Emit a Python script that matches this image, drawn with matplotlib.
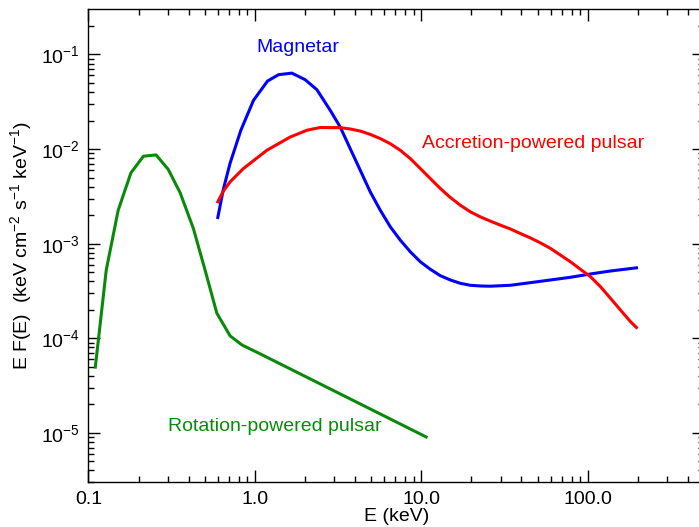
import numpy as np
import matplotlib
matplotlib.use("Agg")
import matplotlib.pyplot as plt
from matplotlib.ticker import FixedLocator, NullLocator, FuncFormatter

plt.rcParams['font.family'] = ['Liberation Sans', 'DejaVu Sans']
plt.rcParams['mathtext.fontset'] = 'custom'
plt.rcParams['mathtext.rm'] = 'Liberation Sans'
plt.rcParams['mathtext.it'] = 'Liberation Sans:italic'
plt.rcParams['axes.linewidth'] = 1.0

# 自转供能脉冲星 (Rotation-powered pulsar)
rot_E = [0.110, 0.128, 0.151, 0.180, 0.214, 0.255, 0.302, 0.356, 0.427,
         0.502, 0.591, 0.710, 0.836, 1.076, 10.7]
rot_F = [4.95e-5, 5.27e-4, 2.26e-3, 5.6e-3, 8.4e-3, 8.67e-3, 6.08e-3, 3.44e-3,
         1.45e-3, 5.27e-4, 1.84e-4, 1.06e-4, 8.5e-5, 6.84e-5, 9.05e-6]

# 磁星 (Magnetar)
mag_E = [0.599, 0.647, 0.710, 0.824, 0.981, 1.191, 1.387, 1.669, 2.006, 2.360,
         2.836, 3.258, 3.741, 4.298, 4.935, 5.668, 6.510, 7.477, 8.588, 9.863,
         11.33, 13.01, 14.94, 17.16, 19.71, 22.64, 26.00,
         34.30, 45.24, 59.68, 78.71, 103.8, 136.9, 196.3]
mag_F = [1.89e-3, 3.77e-3, 7.09e-3, 1.58e-2, 3.27e-2, 5.23e-2, 6.11e-2, 6.35e-2, 5.41e-2, 4.24e-2,
         2.57e-2, 1.71e-2, 1.01e-2, 5.97e-3, 3.53e-3, 2.26e-3, 1.51e-3, 1.09e-3, 8.21e-4, 6.44e-4,
         5.36e-4, 4.59e-4, 4.13e-4, 3.81e-4, 3.63e-4, 3.57e-4, 3.55e-4,
         3.63e-4, 3.87e-4, 4.13e-4, 4.41e-4, 4.78e-4, 5.14e-4, 5.55e-4]

# 吸积供能脉冲星 (Accretion-powered pulsar)
acc_E = [0.599, 0.647, 0.710, 0.854, 1.181, 1.630, 2.054, 2.470,
         2.836, 3.258, 3.741, 4.298, 4.935, 5.668, 6.510, 7.477, 8.588, 9.863,
         11.33, 13.01, 14.94, 17.16, 19.71, 22.64, 26.00, 29.86, 34.30, 39.39,
         45.24, 51.96, 59.68, 68.54, 78.71, 90.40, 103.8, 119.3, 136.9, 157.3,
         180.6, 196.3]
acc_F = [2.77e-3, 3.6e-3, 4.50e-3, 6.23e-3, 9.71e-3, 1.34e-2, 1.58e-2, 1.69e-2,
         1.685e-2, 1.685e-2, 1.63e-2, 1.55e-2, 1.43e-2, 1.29e-2, 1.14e-2, 9.71e-3, 7.94e-3, 6.23e-3,
         4.88e-3, 3.83e-3, 3.08e-3, 2.55e-3, 2.17e-3, 1.92e-3, 1.73e-3, 1.57e-3, 1.43e-3, 1.28e-3,
         1.15e-3, 1.02e-3, 8.92e-4, 7.58e-4, 6.44e-4, 5.36e-4, 4.48e-4, 3.51e-4, 2.65e-4, 1.99e-4,
         1.50e-4, 1.30e-4]

x_ticks = [0.1, 1.0, 10.0, 100.0]
x_tick_labels = ["0.1", "1.0", "10.0", "100.0"]
y_ticks = [1e-5, 1e-4, 1e-3, 1e-2, 1e-1]

# 对数轴的次刻度 2..9，和主刻度放在一起，之后逐个改短
x_minor = [m * 10.0 ** d for d in range(-1, 3) for m in range(2, 10) if m * 10.0 ** d < 500]
y_minor = [m * 10.0 ** d for d in range(-6, 0) for m in range(2, 10) if 3e-6 <= m * 10.0 ** d <= 0.3]
x_all = sorted(x_ticks + x_minor)
y_all = sorted(y_ticks + y_minor)


def is_major(v, majors):
    return any(np.isclose(v, m, rtol=1e-6) for m in majors)


def x_fmt(v, p):
    for t, lab in zip(x_ticks, x_tick_labels):
        if np.isclose(v, t, rtol=1e-6):
            return lab
    return ""


def y_fmt(v, p):
    if is_major(v, y_ticks):
        return r'$\mathregular{10^{%d}}$' % int(round(np.log10(v)))
    return ""


fig = plt.figure(figsize=(6.99, 5.27), dpi=100)
ax = fig.add_axes([0.1265, 0.0848, 0.8807, 0.8975])

green = '#0a8a0a'
ax.plot(rot_E, rot_F, color=green, lw=2.2)
ax.plot(mag_E, mag_F, color='#0000ff', lw=2.2)
ax.plot(acc_E, acc_F, color='#ff0000', lw=2.2)

ax.set_xscale('log')
ax.set_yscale('log')
ax.set_xlim(0.1, 500)
ax.set_ylim(3e-6, 0.3)

ax.set_xlabel("E (keV)", fontsize=14, labelpad=0)
ax.set_ylabel(r"E F(E)  (keV cm$^{\mathregular{-2}}$ s$^{\mathregular{-1}}$ keV$^{\mathregular{-1}}$)", fontsize=14, labelpad=5)

ax.text(1.02, 0.1186, "Magnetar", color='#0000ff', fontsize=14, ha='left', va='center')
ax.text(10.1, 0.01151, "Accretion-powered pulsar", color='#ff0000', fontsize=14, ha='left', va='center')
ax.text(0.302, 1.17e-5, "Rotation-powered pulsar", color=green, fontsize=14, ha='left', va='center')

ax.xaxis.set_major_locator(FixedLocator(x_all))
ax.xaxis.set_major_formatter(FuncFormatter(x_fmt))
ax.xaxis.set_minor_locator(NullLocator())
ax.yaxis.set_major_locator(FixedLocator(y_all))
ax.yaxis.set_major_formatter(FuncFormatter(y_fmt))
ax.yaxis.set_minor_locator(NullLocator())

ax.tick_params(which='both', direction='in', top=True, right=True, width=1.0, labelsize=14)
ax.tick_params(which='major', length=8.6, pad=6)

# 次刻度改短
for axis, locs, majors in [(ax.xaxis, x_all, x_ticks), (ax.yaxis, y_all, y_ticks)]:
    for tick, v in zip(axis.get_major_ticks(len(locs)), locs):
        if not is_major(v, majors):
            tick.tick1line.set_markersize(4.3)
            tick.tick2line.set_markersize(4.3)

fig.savefig("out.png", dpi=100)
